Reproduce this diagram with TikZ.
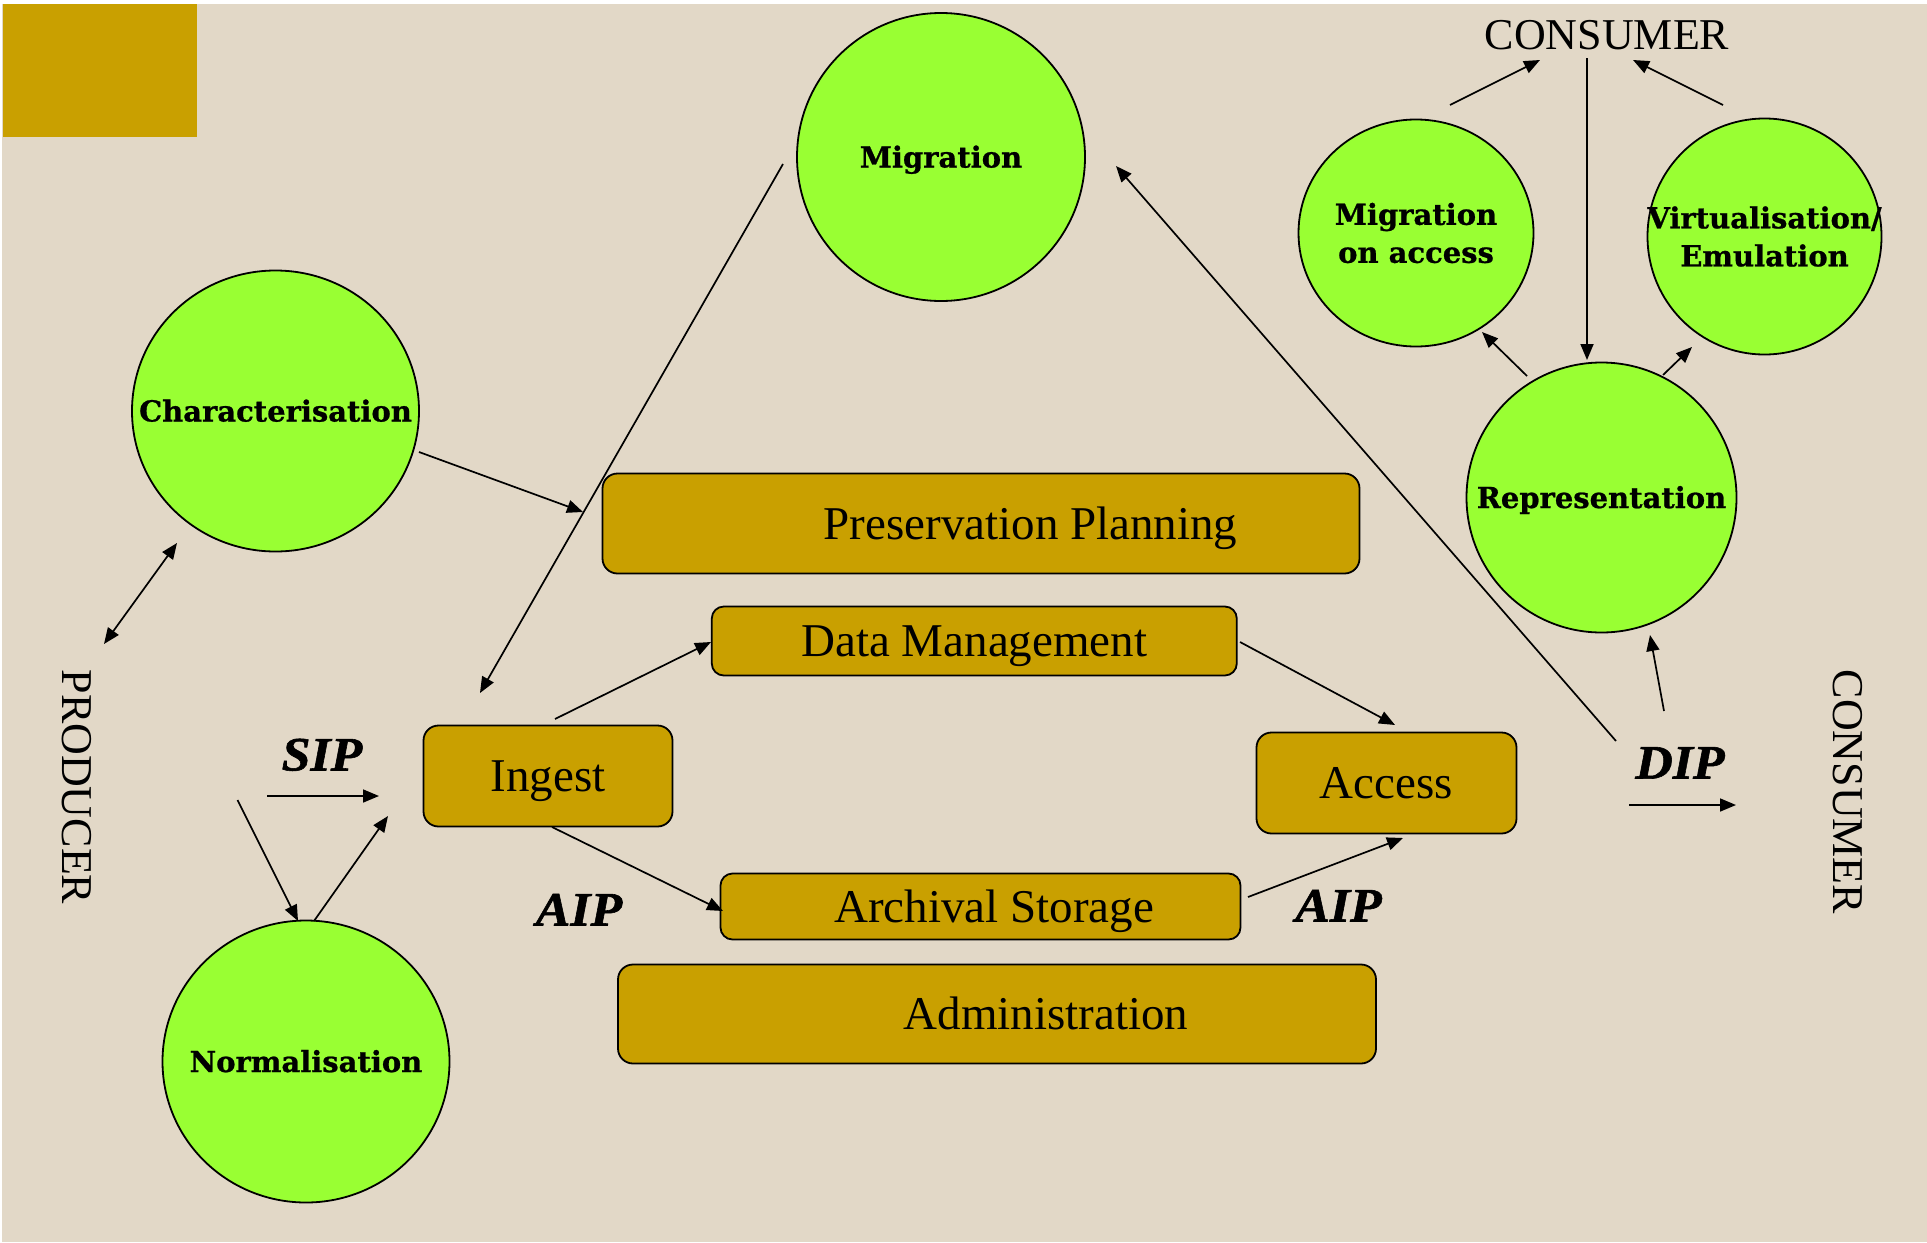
\documentclass[tikz,border=0pt]{standalone}
\usepackage{fontspec}
\setmainfont{Liberation Serif}
\newfontfamily\circfont{DejaVu Serif}[FakeBold=0.8]
\newfontfamily\labfont{Liberation Serif}[FakeStretch=1.08, FakeBold=1.2]
\usetikzlibrary{arrows.meta,shapes.geometric}
\definecolor{bgc}{RGB}{226,216,199}
\definecolor{gold}{RGB}{201,160,0}
\definecolor{lime}{RGB}{153,255,51}
\tikzset{
  circ/.style={ellipse, draw=black, line width=1.8pt, fill=lime, inner sep=0pt},
  ctext/.style={font=\circfont\bfseries\fontsize{29}{38}\selectfont, inner sep=0pt, align=center},
  ctextone/.style={ctext, text height=21pt, text depth=0pt},
  box/.style={rectangle, rounded corners=15pt, draw=black, line width=1.8pt, fill=gold, inner sep=0pt,
    font=\fontsize{47}{50}\selectfont, text height=31pt, text depth=0pt},
  arr/.style={line width=1.7pt, -{Triangle[length=16pt,width=13pt]}},
  darr/.style={line width=1.7pt, {Triangle[length=16pt,width=13pt]}-{Triangle[length=16pt,width=13pt]}},
  lab/.style={font=\labfont\bfseries\itshape\fontsize{48}{50}\selectfont, inner sep=0pt, text height=31pt, text depth=0pt},
  big/.style={font=\fontsize{44}{48}\selectfont, inner sep=0pt, text height=29.5pt, text depth=0pt},
}
\begin{document}
\begin{tikzpicture}[x=1pt,y=-1pt]
\useasboundingbox (0,0) rectangle (1927,1242);
\fill[white] (0,0) rectangle (1927,1242);
\fill[bgc] (2,4) rectangle (1927,1242);
\fill[gold] (3,4) rectangle (197,137);

% circles
\node[circ, minimum width=288pt, minimum height=288pt] (mig) at (941,157) {};
\node[ctextone] (migT) at (mig.center) {Migration};
\node[circ, minimum width=287pt, minimum height=281pt] (char) at (275.5,411) {};
\node[ctextone] (charT) at (char.center) {Characterisation};
\node[circ, minimum width=287pt, minimum height=282pt] (norm) at (306,1061.5) {};
\node[ctextone] (normT) at (norm.center) {Normalisation};
\node[circ, minimum width=235pt, minimum height=227pt] (moa) at (1416,233) {};
\node[ctext] (moaT) at (moa.center) {Migration\\on access};
\node[circ, minimum width=234pt, minimum height=236pt] (virt) at (1764.5,236.5) {};
\node[ctext] (virtT) at (virt.center) {Virtualisation/\\Emulation};
\node[circ, minimum width=270pt, minimum height=270pt] (rep) at (1601.5,497.5) {};
\node[ctextone] (repT) at (rep.center) {Representation};

% boxes
\node[box, minimum width=757pt, minimum height=100pt] (pp) at (981,523.5) {\hspace*{99pt}Preservation Planning};
\node[box, minimum width=525pt, minimum height=69pt, rounded corners=12pt] (dm) at (974.3,641) {Data Management};
\node[box, minimum width=249pt, minimum height=101pt] (ingest) at (548,776) {Ingest};
\node[box, minimum width=260pt, minimum height=101pt] (access) at (1386.5,783) {Access};
\node[box, minimum width=520pt, minimum height=66pt, rounded corners=12pt] (as) at (980.5,906.5) {\hspace*{27pt}Archival Storage};
\node[box, minimum width=758pt, minimum height=99pt] (admin) at (997,1014) {\hspace*{98pt}Administration};

% labels
\node[lab] (sip) at (322,755) {SIP};
\node[lab] (aipl) at (579,910) {AIP};
\node[lab] (aipr) at (1338.5,906) {AIP};
\node[lab] (dip) at (1680,763) {DIP};
\node[big] (consT) at (1607,35) {CONSUMER};
\node[big, rotate=-90] (prod) at (77,787) {PRODUCER};
\node[big, rotate=-90] (consR) at (1848,792) {CONSUMER};

% free ends
\coordinate (a1s) at (419,452);  \coordinate (a1e) at (583,512);
\coordinate (a2s) at (104,644);  \coordinate (a2e) at (177,543);
\coordinate (a3s) at (783,164);  \coordinate (a3e) at (480,693);
\coordinate (a4s) at (1616,741); \coordinate (a4e) at (1116,166);
\coordinate (a5s) at (267,796);  \coordinate (a5e) at (379,796);
\coordinate (a6s) at (1629,805); \coordinate (a6e) at (1736,805);
\coordinate (a7s) at (1248,897); \coordinate (a7e) at (1403,838);
\coordinate (a8s) at (1450,105); \coordinate (a8e) at (1540,60);
\coordinate (a9s) at (1723,105); \coordinate (a9e) at (1633,60);
\coordinate (a10s) at (1587,58); \coordinate (a10e) at (1587,360);
\coordinate (a11s) at (1664,711); \coordinate (a11e) at (1650,635);
\coordinate (a12s) at (1527,376); \coordinate (a12e) at (1482,332);
\coordinate (a13s) at (1663,375); \coordinate (a13e) at (1692,347);
\coordinate (a14s) at (237.5,800); \coordinate (a14e) at (298,921);
\coordinate (a15s) at (314,921); \coordinate (a15e) at (388,816);
\coordinate (a16s) at (555,719); \coordinate (a16e) at (711,642);
\coordinate (a17s) at (552,827); \coordinate (a17e) at (723,911);
\coordinate (a18s) at (1240,642); \coordinate (a18e) at (1395,725);

\draw[arr] (a1s) -- (a1e);
\draw[darr] (a2s) -- (a2e);
\draw[arr] (a3s) -- (a3e);
\draw[arr] (a4s) -- (a4e);
\draw[arr] (a5s) -- (a5e);
\draw[arr] (a6s) -- (a6e);
\draw[arr] (a7s) -- (a7e);
\draw[arr] (a8s) -- (a8e);
\draw[arr] (a9s) -- (a9e);
\draw[arr] (a10s) -- (a10e);
\draw[arr] (a11s) -- (a11e);
\draw[arr] (a12s) -- (a12e);
\draw[arr] (a13s) -- (a13e);
\draw[arr] (a14s) -- (a14e);
\draw[arr] (a15s) -- (a15e);
\draw[arr] (a16s) -- (a16e);
\draw[arr] (a17s) -- (a17e);
\draw[arr] (a18s) -- (a18e);
\end{tikzpicture}
\end{document}
